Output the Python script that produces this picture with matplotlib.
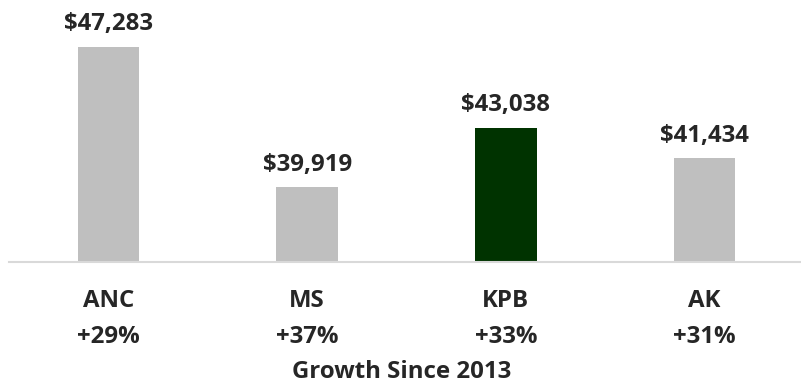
import matplotlib
matplotlib.use("Agg")
import matplotlib.pyplot as plt
from matplotlib import font_manager as fm

# Average wage by region, with growth since 2013
regions = ["ANC", "MS", "KPB", "AK"]
wages = [47283, 39919, 43038, 41434]
growth = ["+29%", "+37%", "+33%", "+31%"]
bar_colors = ["#BFBFBF", "#BFBFBF", "#003300", "#BFBFBF"]
axis_title = "Growth Since 2013"

bold_file = next((f.fname for f in fm.fontManager.ttflist
                  if f.fname.endswith("OpenSans-Bold.ttf")), None)
if bold_file:
    font = fm.FontProperties(fname=bold_file, size=17.3)
else:
    font = fm.FontProperties(family="DejaVu Sans", weight="bold", size=16)
text_color = "#262626"

W, H = 801, 383
fig = plt.figure(figsize=(W / 100, H / 100), dpi=100)
ax = fig.add_axes([9 / W, (H - 262.3) / H, 795 / W, 262.3 / H])

x = range(len(regions))
ax.bar(x, wages, width=0.31, color=bar_colors, zorder=2)
ax.set_xlim(-0.5, len(regions) - 0.5)
ax.set_ylim(36000, 49720)

for s in ["top", "left", "right"]:
    ax.spines[s].set_visible(False)
ax.spines["bottom"].set_color("#D9D9D9")
ax.spines["bottom"].set_linewidth(1.5)
ax.set_xticks([])
ax.set_yticks([])

for i, (v, g, r) in enumerate(zip(wages, growth, regions)):
    ax.annotate(f"${v:,}", xy=(i, v), xytext=(0, 11.8), textcoords="offset points",
                ha="center", va="baseline", fontproperties=font, color=text_color)
    ax.annotate(r, xy=(i, 0), xycoords=("data", "axes fraction"), xytext=(0, -32),
                textcoords="offset points", ha="center", va="baseline",
                fontproperties=font, color=text_color)
    ax.annotate(g, xy=(i, 0), xycoords=("data", "axes fraction"), xytext=(0, -58.3),
                textcoords="offset points", ha="center", va="baseline",
                fontproperties=font, color=text_color)

fig.text(402 / W, (H - 378) / H, axis_title, ha="center", va="baseline",
         fontproperties=font, color=text_color)

fig.savefig("out.png", dpi=100)
